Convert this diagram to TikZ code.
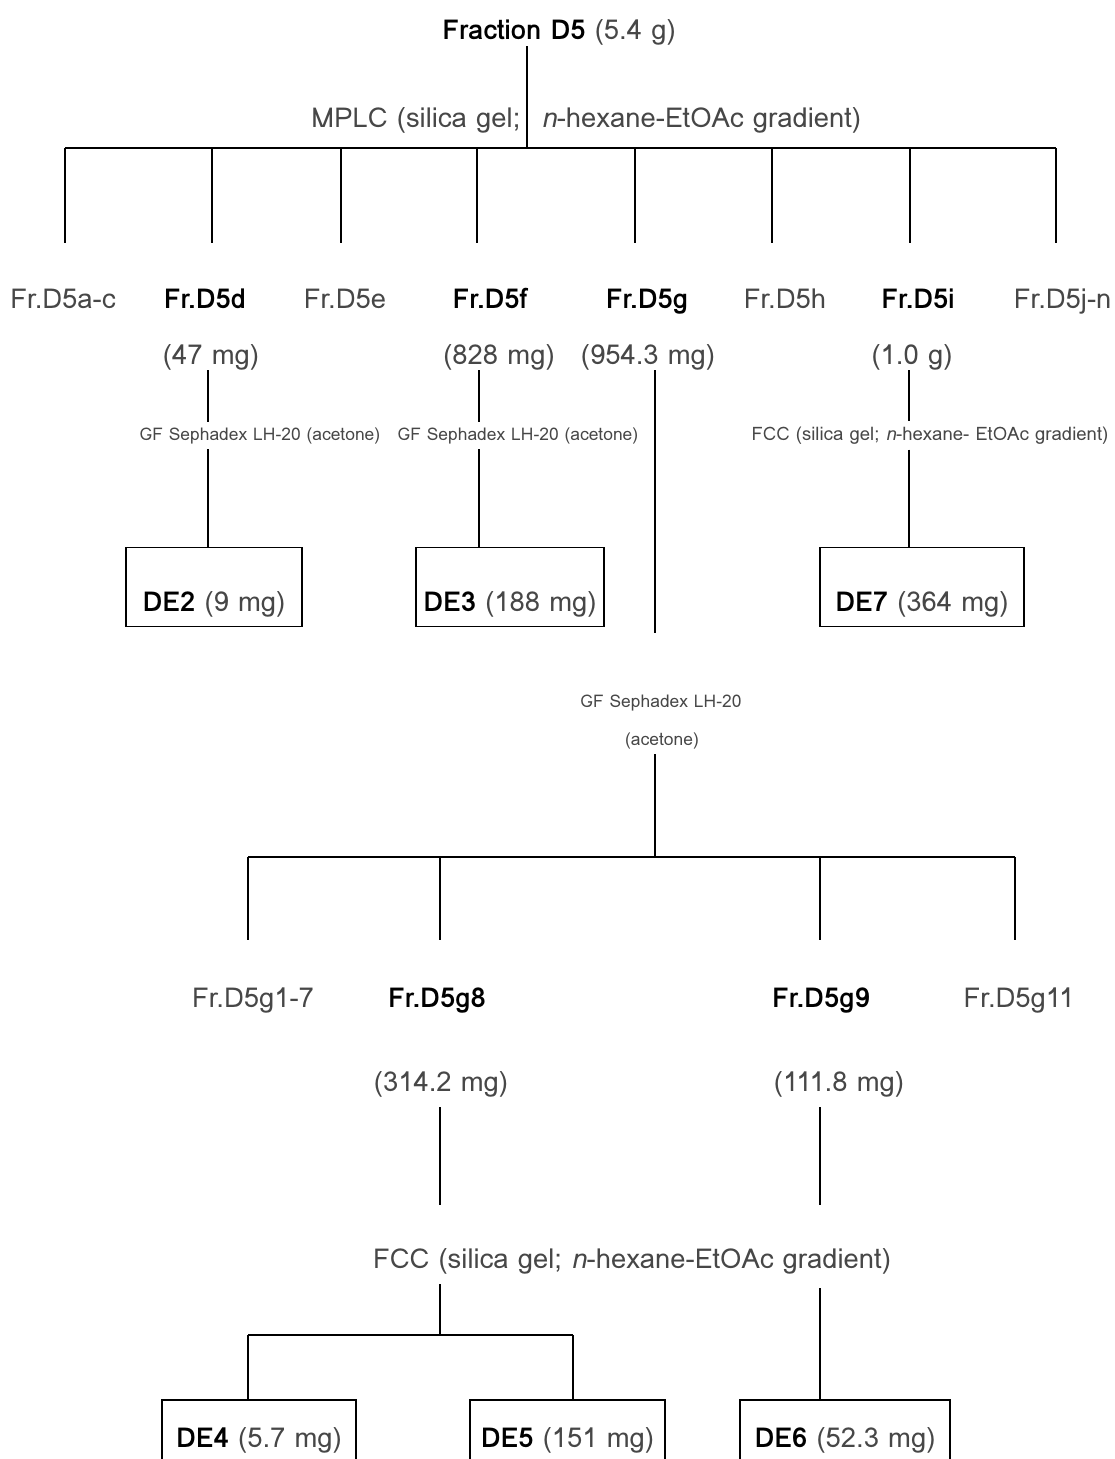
\documentclass[tikz,border=0pt]{standalone}
\usepackage{fontspec}
\setmainfont{Loma}[AutoFakeSlant=0.2]
\newcommand{\cpd}[1]{\textcolor{black}{\bfseries #1}}

\begin{document}
\begin{tikzpicture}[x=0.025cm,y=-0.025cm,line width=0.8pt,
		lbl/.style={font=\fontsize{19.5}{23}\selectfont,text=black!72,inner sep=0pt,anchor=base},
		key/.style={lbl,text=black,font=\fontsize{19.5}{23}\selectfont\bfseries},
		note/.style={lbl,font=\fontsize{12.4}{15}\selectfont,outer sep=4pt},
		cmpd/.style={draw,lbl,anchor=center,line width=0.9pt,minimum height=1.975cm,text depth=0pt}]
		\useasboundingbox (0,0) rectangle (1114,1459);
		% first separation
		\node[lbl] (d5) at (559,40) {\cpd{Fraction D5} (5.4 g)};
		\node[lbl,anchor=base east] (mplcl) at (521,128) {MPLC (silica gel;};
		\node[lbl,anchor=base west] (mplcr) at (541,128) {\textit{n}-hexane-EtOAc gradient)};
		\coordinate (b1) at (527,148);
		\coordinate (b1w) at (65,148);
		\coordinate (b1e) at (1056,148);
		\draw (b1 |- d5.south) -- (b1);
		\draw (b1w) -- (b1e);
		\foreach \x in {65,212,341,477,635,772,910,1056}
			\draw (\x,148) -- (\x,243);
		\node[lbl] (fac) at (63,308) {Fr.D5a-c};
		\node[key] (fd) at (205,308) {Fr.D5d};
		\node[lbl] (fe) at (345,308) {Fr.D5e};
		\node[key] (ff) at (490,308) {Fr.D5f};
		\node[key] (fg) at (647,308) {Fr.D5g};
		\node[lbl] (fh) at (785,308) {Fr.D5h};
		\node[key] (fi) at (918,308) {Fr.D5i};
		\node[lbl,anchor=base east] (fjn) at (1112,308) {Fr.D5j-n};
		\node[lbl] (md) at (211,364) {(47 mg)};
		\node[lbl] (mf) at (499,364) {(828 mg)};
		\node[lbl] (mg) at (648,364) {(954.3 mg)};
		\node[lbl] (mi) at (912,364) {(1.0 g)};
		\node[note] (sd) at (260,440) {GF Sephadex LH-20 (acetone)};
		\node[note] (sf) at (518,440) {GF Sephadex LH-20 (acetone)};
		\node[note,font=\fontsize{13.2}{15}\selectfont,anchor=base east] (si) at (1114,440) {FCC (silica gel; \textit{n}-hexane- EtOAc gradient)};
		\node[cmpd,minimum width=4.4cm,text height=1.22cm] (de2) at (214,587) {\cpd{DE2} (9 mg)};
		\node[cmpd,minimum width=4.7cm,text height=1.22cm] (de3) at (510,587) {\cpd{DE3} (188 mg)};
		\node[cmpd,minimum width=5.1cm,text height=1.22cm] (de7) at (922,587) {\cpd{DE7} (364 mg)};
		\coordinate (xd) at (208,0);
		\coordinate (xf) at (479,0);
		\coordinate (xg) at (655,0);
		\coordinate (xi) at (909,0);
		\draw (xd |- md.south) -- (xd |- sd.north);
		\draw (xd |- sd.south) -- (xd |- de2.north);
		\draw (xf |- mf.south) -- (xf |- sf.north);
		\draw (xf |- sf.south) -- (xf |- de3.north);
		\draw (xi |- mi.south) -- (xi |- si.north);
		\draw (xi |- si.south) -- (xi |- de7.north);
		% second separation of Fr.D5g
		\coordinate (gend) at (655,633);
		\draw (xg |- mg.south) -- (gend);
		\node[note] (sg) at (661,707) {GF Sephadex LH-20};
		\node[note] (sga) at (662,745) {(acetone)};
		\coordinate (b2) at (655,857);
		\coordinate (b2w) at (248,857);
		\coordinate (b2e) at (1015,857);
		\draw (b2 |- sga.south) -- (b2);
		\draw (b2w) -- (b2e);
		\foreach \x in {248,440,820,1015}
			\draw (\x,857) -- (\x,940);
		\node[lbl] (fg17) at (253,1007) {Fr.D5g1-7};
		\node[key] (fg8) at (437,1007) {Fr.D5g8};
		\node[key] (fg9) at (821,1007) {Fr.D5g9};
		\node[lbl] (fg11) at (1019,1007) {Fr.D5g11};
		\node[lbl] (mg8) at (441,1091) {(314.2 mg)};
		\node[lbl] (mg9) at (839,1091) {(111.8 mg)};
		\coordinate (e8) at (440,1205);
		\coordinate (e9) at (820,1205);
		\draw[shorten <=7pt] (e8 |- mg8.south) -- (e8);
		\draw[shorten <=7pt] (e9 |- mg9.south) -- (e9);
		% FCC of Fr.D5g8 and Fr.D5g9
		\node[lbl] (fcc) at (632,1268) {FCC (silica gel; \textit{n}-hexane-EtOAc gradient)};
		\node[cmpd,minimum width=4.85cm,text height=0.38cm] (de4) at (259,1439.5) {\cpd{DE4} (5.7 mg)};
		\node[cmpd,minimum width=4.875cm,text height=0.38cm] (de5) at (567.5,1439.5) {\cpd{DE5} (151 mg)};
		\node[cmpd,minimum width=5.25cm,text height=0.38cm] (de6) at (845,1439.5) {\cpd{DE6} (52.3 mg)};
		\coordinate (b3) at (440,1335);
		\coordinate (b3w) at (248,1335);
		\coordinate (b3e) at (573,1335);
		\draw[shorten <=7pt] (b3 |- fcc.south) -- (b3);
		\draw (b3w) -- (b3e);
		\draw (b3w) -- (b3w |- de4.north);
		\draw (b3e) -- (b3e |- de5.north);
		\draw[shorten <=10pt] (e9 |- fcc.south) -- (e9 |- de6.north);
	\end{tikzpicture}
\end{document}
